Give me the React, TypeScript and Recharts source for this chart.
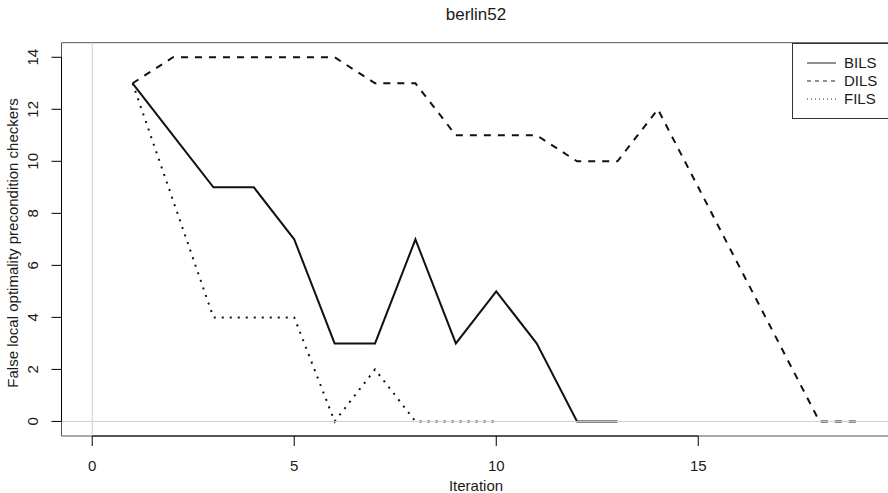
import { LineChart, Line, XAxis, YAxis, ReferenceLine, ReferenceArea } from "recharts"

const bilsIter = [1, 2, 3, 4, 5, 6, 7, 8, 9, 10, 11, 12, 13]
const bilsValues = [13, 11, 9, 9, 7, 3, 3, 7, 3, 5, 3, 0, 0]

const dilsIter = [1, 2, 3, 4, 5, 6, 7, 8, 9, 10, 11, 12, 13, 14, 15, 16, 17, 18, 19]
const dilsValues = [13, 14, 14, 14, 14, 14, 13, 13, 11, 11, 11, 10, 10, 12, 9, 6, 3, 0, 0]

const filsIter = [1, 2, 3, 4, 5, 6, 7, 8, 9, 10]
const filsValues = [13, 8.5, 4, 4, 4, 0, 2, 0, 0, 0]

const xTicks = [0, 5, 10, 15]
const yTicks = [0, 2, 4, 6, 8, 10, 12, 14]

const toPoints = (xs: number[], ys: number[]) => xs.map((x, i) => ({ x, y: ys[i] }))

const FONT = "Liberation Sans, Arial, sans-serif"
const TXT = "#1a1a1a"
const FS = 15

const XDOMAIN = [-0.76, 19.76]
const YDOMAIN = [-0.56, 14.56]

function YTick(props: any) {
  const { y, payload } = props
  return (
    <text
      x={33}
      y={y}
      transform={`rotate(-90, 33, ${y})`}
      textAnchor="middle"
      dominantBaseline="central"
      fontSize={FS}
      fontFamily={FONT}
      fill={TXT}
    >
      {payload.value}
    </text>
  )
}

function XTick(props: any) {
  const { x, payload } = props
  return (
    <text x={x} y={465} textAnchor="middle" dominantBaseline="central" fontSize={FS} fontFamily={FONT} fill={TXT}>
      {payload.value}
    </text>
  )
}

const legendItems = [
  { name: "BILS", dash: undefined },
  { name: "DILS", dash: "4 4" },
  { name: "FILS", dash: "1 3" },
]

export default function App() {
  return (
    <div style={{ position: "absolute", left: 0, top: 0, width: 888, height: 493, overflow: "hidden", background: "#fff" }}>
      <LineChart width={900} height={493} margin={{ top: 42.7, right: 9.4, bottom: 0, left: 0 }}>
        <XAxis
          type="number"
          dataKey="x"
          domain={XDOMAIN}
          ticks={xTicks}
          allowDataOverflow
          height={57}
          axisLine={false}
          tickSize={10}
          tickLine={{ stroke: "#000" }}
          tick={<XTick />}
          label={{
            content: () => (
              <text x={476} y={485} textAnchor="middle" dominantBaseline="central" fontSize={FS} fontFamily={FONT} fill={TXT}>
                Iteration
              </text>
            ),
          }}
        />
        <YAxis
          type="number"
          dataKey="y"
          domain={YDOMAIN}
          ticks={yTicks}
          allowDataOverflow
          width={61.5}
          axisLine={false}
          tickSize={10}
          tickLine={{ stroke: "#000" }}
          tick={<YTick />}
          label={{
            content: () => (
              <text
                x={12.5}
                y={243}
                transform="rotate(-90, 12.5, 243)"
                textAnchor="middle"
                dominantBaseline="central"
                fontSize={FS}
                fontFamily={FONT}
                fill={TXT}
              >
                False local optimality precondition checkers
              </text>
            ),
          }}
        />
        <ReferenceLine x={0} stroke="#cfcfcf" strokeWidth={1} />
        <Line
          data={toPoints(bilsIter, bilsValues)}
          dataKey="y"
          stroke="#111"
          strokeWidth={2}
          dot={false}
          isAnimationActive={false}
          type="linear"
        />
        <Line
          data={toPoints(dilsIter, dilsValues)}
          dataKey="y"
          stroke="#111"
          strokeWidth={2}
          strokeDasharray="7 7"
          dot={false}
          isAnimationActive={false}
          type="linear"
        />
        <Line
          data={toPoints(filsIter, filsValues)}
          dataKey="y"
          stroke="#111"
          strokeWidth={2}
          strokeDasharray="2 6"
          dot={false}
          isAnimationActive={false}
          type="linear"
        />
        <ReferenceLine y={0} stroke="#cfcfcf" strokeWidth={1} />
        <ReferenceArea
          x1={XDOMAIN[0]}
          x2={XDOMAIN[1]}
          y1={YDOMAIN[0]}
          y2={YDOMAIN[1]}
          fill="none"
          stroke="#555"
          strokeWidth={1}
        />
        <ReferenceLine
          segment={[
            { x: 0, y: YDOMAIN[0] },
            { x: 15, y: YDOMAIN[0] },
          ]}
          stroke="#000"
          strokeWidth={1}
        />
        <ReferenceLine
          segment={[
            { x: XDOMAIN[0], y: 0 },
            { x: XDOMAIN[0], y: 14 },
          ]}
          stroke="#000"
          strokeWidth={1}
        />
      </LineChart>
      <div
        style={{
          position: "absolute",
          left: 0,
          top: 5,
          width: 952,
          textAlign: "center",
          fontFamily: FONT,
          fontSize: 17,
          color: TXT,
          lineHeight: "20px",
        }}
      >
        berlin52
      </div>
      <div
        style={{
          position: "absolute",
          left: 792,
          top: 42.7,
          width: 120,
          height: 76,
          border: "1px solid #333",
          boxSizing: "border-box",
          background: "#fff",
        }}
      >
        {legendItems.map((item, i) => (
          <div key={item.name} style={{ position: "absolute", left: 13, top: 10 + i * 18, height: 18, display: "flex", alignItems: "center" }}>
            <svg width={30} height={18}>
              <line x1={1} x2={30} y1={9} y2={9} stroke="#222" strokeWidth={1} strokeDasharray={item.dash} />
            </svg>
            <span style={{ marginLeft: 8, fontFamily: FONT, fontSize: FS, color: TXT, lineHeight: "18px" }}>{item.name}</span>
          </div>
        ))}
      </div>
    </div>
  )
}
